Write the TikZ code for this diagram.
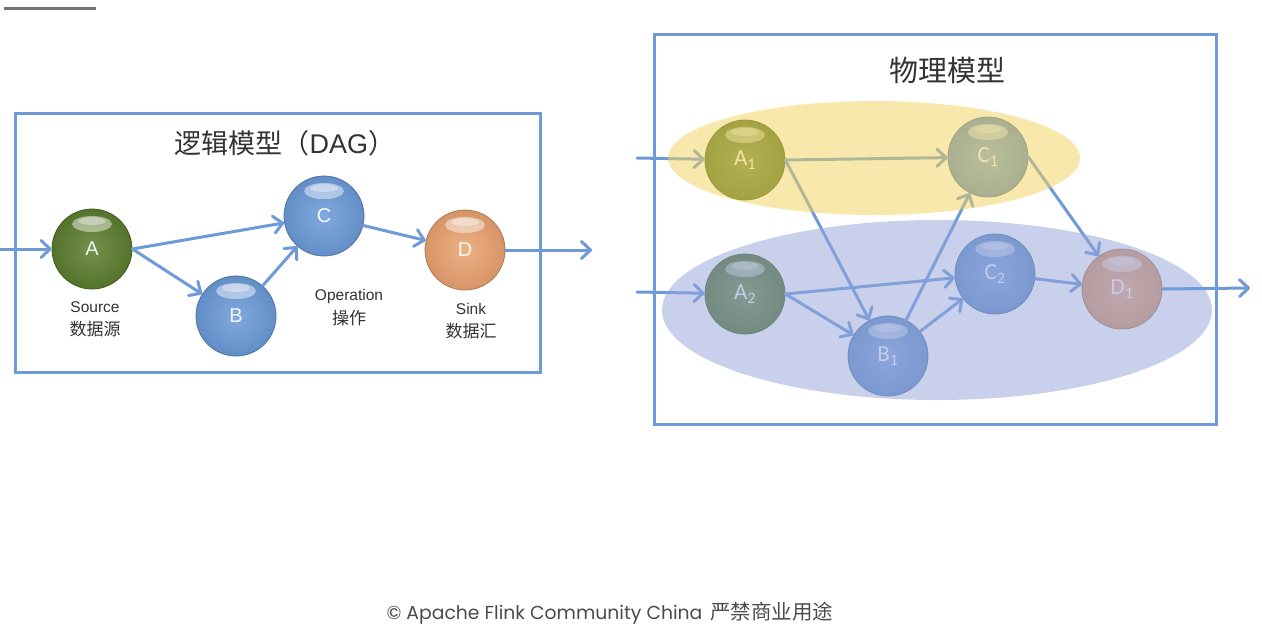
\documentclass[tikz,border=0pt]{standalone}
\usepackage{fontspec}
\setmainfont{Liberation Sans}
\newfontfamily\cjk{Noto Sans CJK SC}
\newfontfamily\calfont{Carlito}
\newfontfamily\footfont{Poppins}
\usetikzlibrary{arrows.meta}
\definecolor{arr}{HTML}{6E9BD8}
\definecolor{boxc}{HTML}{6E9BD8}
\definecolor{gA}{HTML}{5B7D2E}
\definecolor{bB}{HTML}{6B9AD8}
\definecolor{oD}{HTML}{E9A270}
\definecolor{yel}{HTML}{F2D35A}
\definecolor{blu}{HTML}{94A3D9}
\definecolor{txt}{HTML}{333333}
\begin{document}
\begin{tikzpicture}[x=1pt,y=-1pt,
  sph/.style={circle, minimum size=80pt, inner sep=0pt, draw=#1!75!black, line width=0.8pt,
    inner color=#1!85!white, outer color=#1!92!black, text=white!92!#1,
    path picture={\fill[white,fill opacity=0.45] ([yshift=-15pt]path picture bounding box.north) ellipse [x radius=20pt, y radius=8pt];
                  \fill[white,fill opacity=0.35] ([yshift=-12pt]path picture bounding box.north) ellipse [x radius=14pt, y radius=4pt];}},
  lsph/.style={sph=#1, font=\fontsize{20}{20}\selectfont},
  rsph/.style={sph=#1, font=\calfont\fontsize{23}{23}\selectfont},
  conn/.style={draw=arr, line width=3pt, line cap=round, -{Straight Barb[length=9pt,width=17pt,line cap=round,line join=round]}},
  frame/.style={draw=boxc, line width=3pt},
  lbl/.style={font=\fontsize{15.5}{17}\selectfont, text=txt, align=center},
  clbl/.style={font=\cjk\fontsize{17}{17}\selectfont, text=txt, align=center},
]
\useasboundingbox (0,0) rectangle (1262,638);
\fill[white] (0,0) rectangle (1262,638);

% top-left mark
\draw[black!55, line width=3pt] (4,8) -- (96,8);

% ---------- left: logical model ----------
\node[frame, minimum width=525pt, minimum height=259pt, inner sep=0pt] (lbox) at (277.5,242.5) {};
\node[font=\fontsize{27}{27}\selectfont, text=txt] (ltitle) at (285,143) {{\cjk 逻辑模型（}DAG{\cjk ）}};

\node[lsph=gA] (A) at (92,249) {\raisebox{-3pt}{A}};
\node[lsph=bB] (B) at (236,316) {\raisebox{-3pt}{B}};
\node[lsph=bB] (C) at (324,216) {\raisebox{-3pt}{C}};
\node[lsph=oD] (D) at (465,250) {\raisebox{-3pt}{D}};

\node[lbl] (src) at (95,307) {Source};
\node[clbl] (srcc) at (95,329) {数据源};
\node[lbl] (op) at (349,296) {Operation};
\node[clbl] (opc) at (349,318) {操作};
\node[lbl] (sk) at (471,309) {Sink};
\node[clbl] (skc) at (471,331) {数据汇};

\coordinate (lin) at (0,249);
\coordinate (lout) at (592,250);
\draw[conn] (lin) -- (A);
\draw[conn] (A.east) -- (C);
\draw[conn] (A.east) -- (B);
\draw[conn] (B) -- (C);
\draw[conn] (C) -- (D);
\draw[conn] (D) -- (lout);

% ---------- right: physical model ----------
\node[rsph=gA] (A1) at (745,160) {\raisebox{-4pt}{A\textsubscript{1}}};
\node[rsph=bB] (C1) at (988,157) {\raisebox{-4pt}{C\textsubscript{1}}};
\node[rsph=gA] (A2) at (745,294) {\raisebox{-4pt}{A\textsubscript{2}}};
\node[rsph=bB] (C2) at (995,274) {\raisebox{-4pt}{C\textsubscript{2}}};
\node[rsph=bB] (B1) at (888,356) {\raisebox{-4pt}{B\textsubscript{1}}};
\node[rsph=oD] (D1) at (1122,289) {\raisebox{-4pt}{D\textsubscript{1}}};

\coordinate (rin1) at (637,158);
\coordinate (rin2) at (637,292);
\coordinate (rout) at (1250,288);
\draw[conn] (rin1) -- (A1);
\draw[conn] (rin2) -- (A2);
\draw[conn] (A1.east) -- (C1);
\draw[conn] (A1.east) -- (B1);
\draw[conn] (A2.east) -- (C2);
\draw[conn] (A2.east) -- (B1);
\draw[conn] (B1) -- (C1);
\draw[conn] (B1) -- (C2);
\draw[conn] (C1.east) -- (D1);
\draw[conn] (C2) -- (D1);

% translucent groups
\fill[yel, fill opacity=0.5] (874,158) ellipse [x radius=206, y radius=57];
\fill[blu, fill opacity=0.5] (937,310) ellipse [x radius=275, y radius=90];

\draw[conn] (D1.east) -- (rout);

\node[frame, minimum width=562pt, minimum height=390pt, inner sep=0pt] (rbox) at (935,229) {};
\node[font=\cjk\fontsize{29}{29}\selectfont, text=txt] (rtitle) at (947,70) {物理模型};

% footer
\node[text=black!70] (foot) at (610,613)
  {{\footfont\fontsize{18.8}{19}\selectfont © Apache Flink Community China}\hspace{8pt}{\cjk\fontsize{20.5}{20.5}\selectfont 严禁商业用途}};
\end{tikzpicture}
\end{document}
